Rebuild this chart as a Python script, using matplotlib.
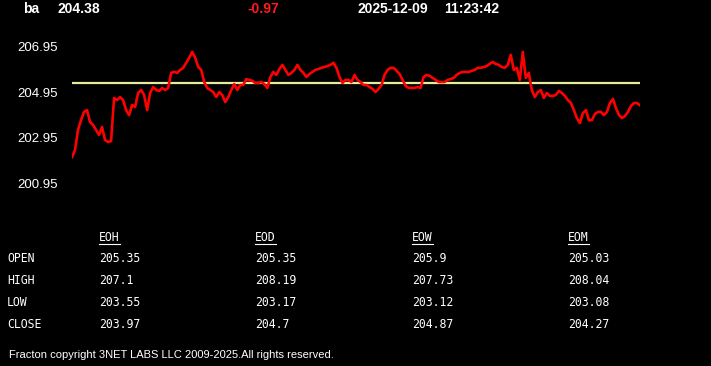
import matplotlib
matplotlib.use("Agg")
import matplotlib.pyplot as plt
from matplotlib.lines import Line2D

# price trace (evenly spaced samples)
prices = [
    202.11, 202.42, 203.30, 203.73, 204.09, 204.17, 203.65, 203.52, 203.30, 203.08,
    203.43, 202.86, 202.77, 202.81, 204.70, 204.61, 204.74, 204.61, 204.17, 203.95,
    204.39, 204.31, 204.92, 205.05, 204.83, 204.17, 204.92, 205.18, 205.05, 205.01,
    205.14, 205.05, 205.14, 205.80, 205.84, 205.80, 205.93, 206.02, 206.24, 206.46,
    206.72, 206.46, 206.06, 205.93, 205.40, 205.14, 205.05, 204.96, 204.74, 204.96,
    204.83, 204.52, 204.74, 205.05, 205.31, 205.05, 205.27, 205.27, 205.53, 205.49,
    205.45, 205.36, 205.36, 205.40, 205.31, 205.14, 205.62, 205.84, 205.71, 205.97,
    206.15, 205.93, 205.71, 205.80, 205.93, 206.15, 205.93, 205.80, 205.62, 205.75,
    205.84, 205.93, 205.97, 206.02, 206.06, 206.10, 206.15, 206.24, 206.02, 205.62,
    205.36, 205.49, 205.49, 205.40, 205.71, 205.49, 205.40, 205.27, 205.27, 205.18,
    205.10, 204.96, 205.10, 205.27, 205.71, 205.93, 206.02, 206.02, 205.89, 205.75,
    205.49, 205.23, 205.14, 205.14, 205.14, 205.18, 205.14, 205.62, 205.71, 205.67,
    205.58, 205.49, 205.40, 205.40, 205.40, 205.49, 205.53, 205.58, 205.71, 205.80,
    205.84, 205.84, 205.84, 205.89, 205.93, 206.02, 206.02, 206.06, 206.10, 206.19,
    206.28, 206.19, 206.15, 206.06, 206.02, 206.15, 206.59, 205.93, 206.02, 205.49,
    206.72, 205.58, 205.80, 205.05, 204.74, 204.96, 205.05, 204.70, 204.92, 204.79,
    204.79, 204.83, 205.01, 204.92, 204.79, 204.61, 204.48, 204.17, 203.82, 203.60,
    204.04, 204.17, 203.73, 203.73, 204.00, 204.09, 204.09, 203.95, 204.09, 204.48,
    204.66, 204.26, 203.95, 203.82, 203.91, 204.09, 204.35, 204.48, 204.48, 204.38,
]
ref_level = 205.35
y_levels = [206.95, 204.95, 202.95, 200.95]

symbol = "ba"
last_price = "204.38"
change = "-0.97"
date_str = "2025-12-09"
time_str = "11:23:42"

periods = ["EOH", "EOD", "EOW", "EOM"]
rows = ["OPEN", "HIGH", "LOW", "CLOSE"]
stats = {
    "EOH": ["205.35", "207.1", "203.55", "203.97"],
    "EOD": ["205.35", "208.19", "203.17", "204.7"],
    "EOW": ["205.9", "207.73", "203.12", "204.87"],
    "EOM": ["205.03", "208.04", "203.08", "204.27"],
}
footer = "Fracton copyright 3NET LABS LLC 2009-2025.All rights reserved."

W, H = 711, 366
fig = plt.figure(figsize=(W / 100, H / 100), dpi=100, facecolor="black")


def fx(px):
    return px / W


def fy(py):
    return 1 - py / H


ax = fig.add_axes([fx(72), fy(190), fx(640) - fx(72), (190 - 40) / H])
ax.set_facecolor("black")
ax.plot(range(len(prices)), prices, color="#ff0000", lw=1.9, zorder=3)
ax.axhline(ref_level, color="#e6eba0", lw=1.6, zorder=2)
ax.set_xlim(0, len(prices) - 1)
ax.set_ylim(200.67, 207.24)
ax.set_xticks([])
ax.set_yticks(y_levels)
ax.set_yticklabels([f"{v:.2f}" for v in y_levels])
ax.tick_params(axis="y", length=0, pad=10, colors="white", labelsize=9.5)
for lab in ax.get_yticklabels():
    lab.set_fontfamily("Liberation Sans")
for s in ax.spines.values():
    s.set_visible(False)

# header line
hdr = dict(fontfamily="Liberation Sans", fontweight="bold", fontsize=10, va="center")
fig.text(fx(23), fy(9), symbol, color="white", **hdr)
fig.text(fx(57), fy(9), last_price, color="white", **hdr)
fig.text(fx(247), fy(9), change, color="#ff1a1a", **hdr)
fig.text(fx(357), fy(9), date_str, color="white", **hdr)
fig.text(fx(444), fy(9), time_str, color="white", **hdr)

# stats table
mono = dict(fontfamily="DejaVu Sans Mono", fontsize=8.3, color="white", va="center")
col_x = [99, 255, 412, 568]
row_y = [259, 281, 302, 324]
for name, ry in zip(rows, row_y):
    fig.text(fx(7), fy(ry), name, **mono)
fig.canvas.draw()
renderer = fig.canvas.get_renderer()
for p, cx in zip(periods, col_x):
    t = fig.text(fx(cx), fy(238), p, **mono)
    bb = t.get_window_extent(renderer)
    fig.lines.append(Line2D([bb.x0 / W, bb.x1 / W], [fy(244), fy(244)],
                            transform=fig.transFigure, color="white", lw=0.8))
    for val, ry in zip(stats[p], row_y):
        fig.text(fx(cx), fy(ry), val, **mono)

fig.text(fx(9), fy(355), footer, fontfamily="Liberation Sans", fontsize=8,
         color="white", va="center")

fig.savefig("out.png", dpi=100, facecolor="black")
